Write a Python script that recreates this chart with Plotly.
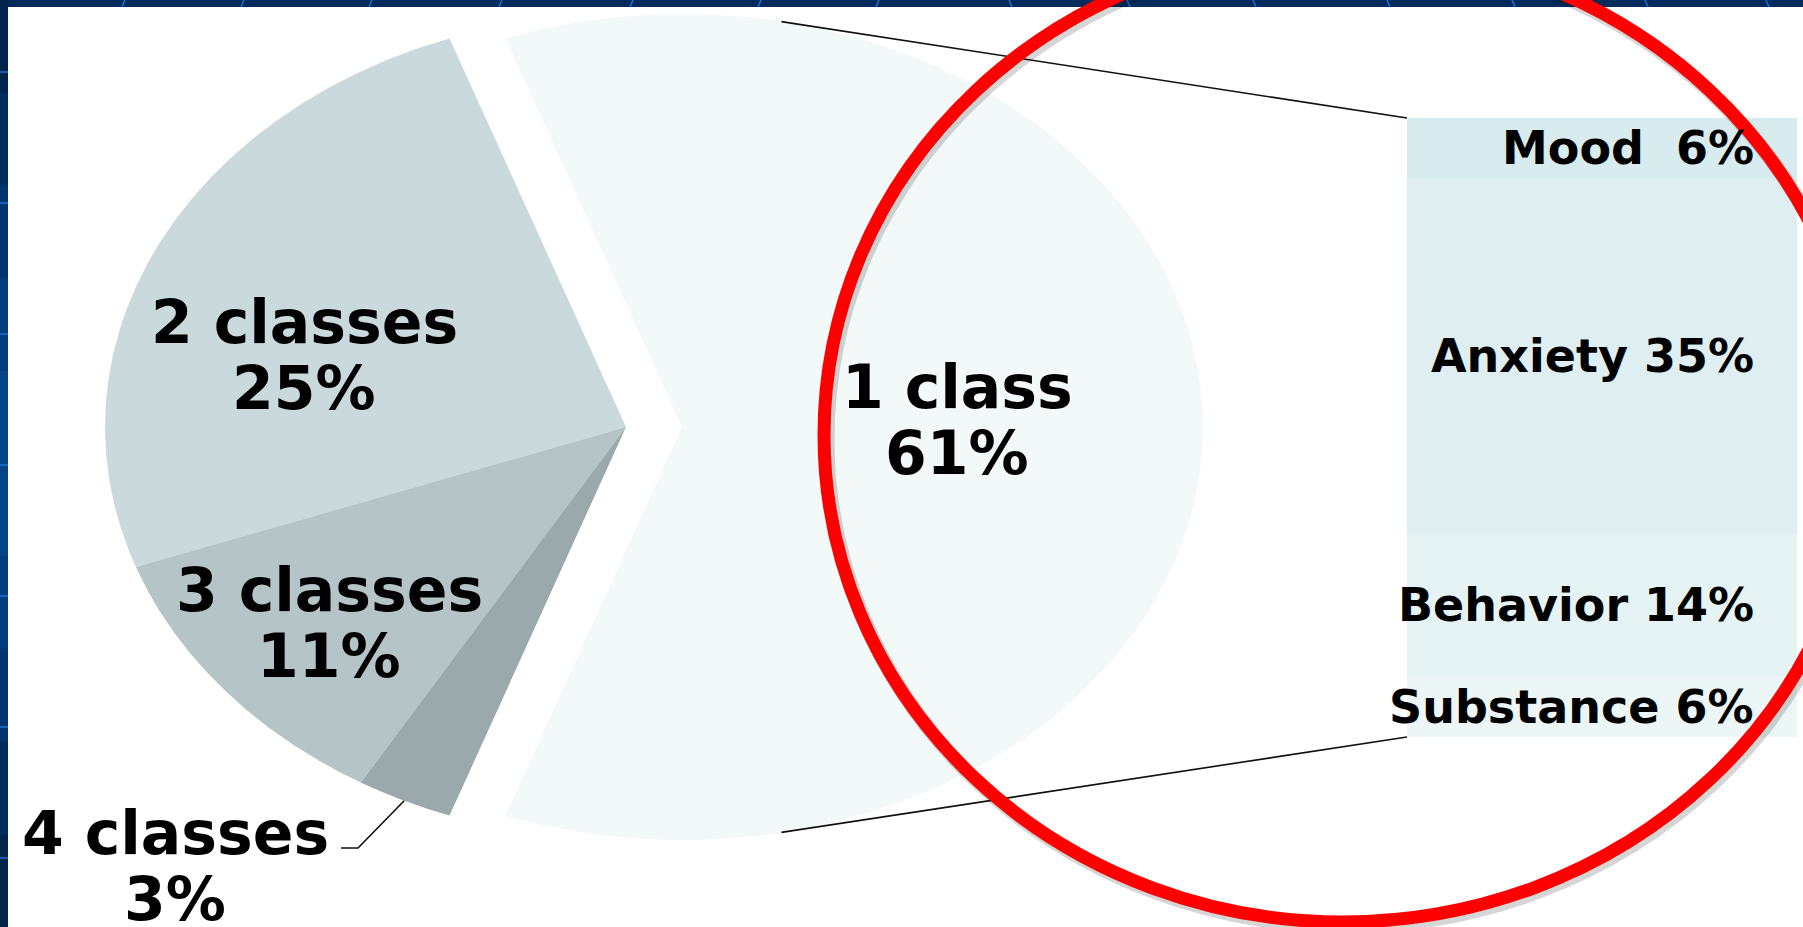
import numpy as np
import plotly.graph_objects as go

# Share of cases by number of diagnostic classes
pie_labels = ["1 class", "2 classes", "3 classes", "4 classes"]
pie_values = [61, 25, 11, 3]
pie_colors = ["#f3f8f8", "#c9d9dc", "#b4c4c7", "#9ba9ac"]

# Breakdown of the single-class slice
bar_labels = ["Mood", "Anxiety", "Behavior", "Substance"]
bar_values = [6, 35, 14, 6]
bar_colors = ["#d8ebee", "#dfeef1", "#e6f3f4", "#ecf6f6"]

W, H = 1803, 927
FONT = "DejaVu Sans"

# pie drawn as a horizontally stretched ellipse, in page pixels
CX, CY, RX, RY = 626, 427, 521, 413
EXPLODE = 56
CONNECT_DEG = 79          # where the connector lines leave the exploded slice

# stacked breakdown bar, page pixels
BAR_L, BAR_R, BAR_T, BAR_B = 1407, 1797, 118, 737
BAR_TEXT_RIGHT = 1756     # right edge of the bar labels, page pixels

# label placement: centre x, baseline of first line (second line 66 px lower)
pie_label_pos = {
    "1 class": (957, 408),
    "2 classes": (304, 343),
    "3 classes": (329, 611),
    "4 classes": (175, 854),
}
LINE_GAP = 66
PIE_FS = 60
BAR_FS = 46


def ellipse_pt(cx, cy, deg):
    t = np.radians(deg)
    return cx + RX * np.cos(t), cy - RY * np.sin(t)


fig = go.Figure()

# ---- pie slices -------------------------------------------------------
total = float(sum(pie_values))
edges = [-180.0 * pie_values[0] / total]
for v in pie_values:
    edges.append(edges[-1] + 360.0 * v / total)

centres = []
for i, (lab, val, col) in enumerate(zip(pie_labels, pie_values, pie_colors)):
    a0, a1 = edges[i], edges[i + 1]
    mid = np.radians((a0 + a1) / 2)
    off = EXPLODE if i == 0 else 0
    cx, cy = CX + off * np.cos(mid), CY - off * np.sin(mid)
    centres.append((cx, cy))
    th = np.linspace(a0, a1, 300)
    ex, ey = ellipse_pt(cx, cy, th)
    fig.add_trace(go.Scatter(
        x=np.r_[cx, ex, cx], y=np.r_[cy, ey, cy],
        fill="toself", fillcolor=col, mode="lines",
        line=dict(width=0, color=col), hoverinfo="skip",
        name=lab, showlegend=False, xaxis="x", yaxis="y"))

# ---- breakdown bar ----------------------------------------------------
for lab, val, col in zip(bar_labels, bar_values, bar_colors):
    fig.add_trace(go.Bar(
        x=[0], y=[val], width=1, name=lab,
        marker=dict(color=col, line=dict(width=0)),
        hoverinfo="skip", showlegend=False, xaxis="x2", yaxis="y2"))

# ---- connector lines from exploded slice to the bar -------------------
ecx, ecy = centres[0]
tx, ty = ellipse_pt(ecx, ecy, CONNECT_DEG)
bx, by = ellipse_pt(ecx, ecy, -CONNECT_DEG)
for (x0, y0), (x1, y1) in [((tx, ty), (BAR_L, BAR_T)), ((bx, by), (BAR_L, BAR_B))]:
    fig.add_trace(go.Scatter(x=[x0, x1], y=[y0, y1], mode="lines",
                             line=dict(color="#111111", width=1.6),
                             hoverinfo="skip", showlegend=False))

# leader line for the small "4 classes" slice
lx, ly = ellipse_pt(CX, CY, (edges[3] + edges[4]) / 2)
fig.add_trace(go.Scatter(x=[341, 358, lx], y=[848, 848, ly], mode="lines",
                         line=dict(color="#111111", width=1.6),
                         hoverinfo="skip", showlegend=False))

annotations = []

# ---- pie labels -------------------------------------------------------
for lab, val in zip(pie_labels, pie_values):
    x, base = pie_label_pos[lab]
    for k, txt in enumerate([lab, f"{val}%"]):
        annotations.append(dict(
            x=x, y=base + k * LINE_GAP - 0.35 * PIE_FS, xref="x", yref="y",
            text=txt, showarrow=False, xanchor="center", yanchor="middle",
            font=dict(family=FONT, size=PIE_FS, color="#000000", weight="bold")))

# ---- bar labels -------------------------------------------------------
cum = np.cumsum([0] + bar_values)
x_right = (BAR_TEXT_RIGHT - (BAR_L + BAR_R) / 2) / (BAR_R - BAR_L)
for i, (lab, val) in enumerate(zip(bar_labels, bar_values)):
    sep = "\u00a0 " if lab == "Mood" else " "
    annotations.append(dict(
        x=x_right, y=(cum[i] + cum[i + 1]) / 2, xref="x2", yref="y2",
        text=f"{lab}{sep}{val}%", showarrow=False,
        xanchor="right", yanchor="middle",
        font=dict(family=FONT, size=BAR_FS, color="#000000", weight="bold")))

# ---- slide frame and highlight ring -----------------------------------
shapes = []
# dark blue frame on top and left edges
shapes.append(dict(type="rect", xref="x", yref="y", x0=0, x1=W, y0=0, y1=7,
                   fillcolor="#012b5b", line=dict(width=0), layer="above"))
frame_cols = ["#01244f", "#012c5e", "#02356d", "#033d7c", "#044386",
              "#044386", "#033d7c", "#02356d", "#012c5e", "#01234c"]
seg = H / len(frame_cols)
for i, c in enumerate(frame_cols):
    shapes.append(dict(type="rect", xref="x", yref="y", x0=0, x1=8,
                       y0=i * seg, y1=(i + 1) * seg + 1,
                       fillcolor=c, line=dict(width=0), layer="above"))
for gy in [72, 203, 334, 465, 596, 727, 858]:
    shapes.append(dict(type="line", xref="x", yref="y", x0=0, x1=8, y0=gy, y1=gy,
                       line=dict(color="#1f6fd6", width=1.5), layer="above"))
for gx in [122, 241, 369, 499, 630, 758, 876, 1012, 1130, 1256, 1390, 1515, 1648, 1769]:
    dx = 3 if gx < 1000 else -3
    shapes.append(dict(type="line", xref="x", yref="y", x0=gx, x1=gx + dx, y0=7, y1=0,
                       line=dict(color="#1f6fd6", width=1.5), layer="above"))

# red highlight ring with a soft shadow
RING = dict(x0=824, x1=1862, y0=-52, y1=922)
shapes.append(dict(type="circle", xref="x", yref="y",
                   x0=RING["x0"] + 3, x1=RING["x1"] + 3,
                   y0=RING["y0"] + 4, y1=RING["y1"] + 4,
                   line=dict(color="rgba(0,0,0,0.16)", width=15), layer="above"))
shapes.append(dict(type="circle", xref="x", yref="y", **RING,
                   line=dict(color="#ff0000", width=13), layer="above"))

fig.update_layout(
    width=W, height=H, margin=dict(l=0, r=0, t=0, b=0, pad=0),
    paper_bgcolor="#ffffff", plot_bgcolor="rgba(0,0,0,0)",
    barmode="stack", showlegend=False,
    xaxis=dict(range=[0, W], domain=[0, 1], visible=False, fixedrange=True),
    yaxis=dict(range=[H, 0], domain=[0, 1], visible=False, fixedrange=True),
    xaxis2=dict(range=[-0.5, 0.5], domain=[BAR_L / W, BAR_R / W],
                visible=False, fixedrange=True, anchor="y2"),
    yaxis2=dict(range=[sum(bar_values), 0], domain=[1 - BAR_B / H, 1 - BAR_T / H],
                visible=False, fixedrange=True, anchor="x2"),
    annotations=annotations, shapes=shapes,
)

fig.write_html("out.html", config={"displayModeBar": False})
